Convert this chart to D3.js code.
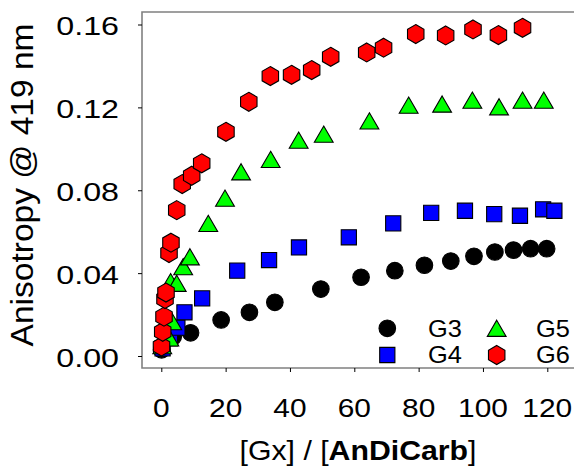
<!DOCTYPE html>
<html>
<head>
<meta charset="utf-8">
<script src="https://cdn.jsdelivr.net/npm/d3@7/dist/d3.min.js"></script>
<style>
  html, body { margin: 0; padding: 0; background: #fff; }
  svg { display: block; font-family: "Liberation Sans", Arial, sans-serif; }
</style>
</head>
<body>
<svg id="chart" width="574" height="470"></svg>
<script>
// Titration data: [Gx]/[AnDiCarb] ratio vs. fluorescence anisotropy at 419 nm
const g3Ratio = [0.1, 3.7, 9.1, 18.6, 27.4, 35.3, 49.6, 62.1, 72.6, 81.8, 90.0, 97.2, 103.7, 109.5, 114.8, 119.8];
const g3Aniso = [0.0030, 0.0093, 0.0112, 0.0174, 0.0211, 0.0259, 0.0323, 0.0380, 0.0412, 0.0438, 0.0458, 0.0481, 0.0502, 0.0511, 0.0518, 0.0518];

const g4Ratio = [0.4, 2.7, 5.0, 7.2, 12.7, 23.6, 33.5, 42.8, 58.3, 72.1, 83.9, 94.4, 103.5, 111.5, 118.7, 122.2];
const g4Aniso = [0.0037, 0.0085, 0.0137, 0.0211, 0.0278, 0.0412, 0.0463, 0.0524, 0.0573, 0.0640, 0.0691, 0.0701, 0.0685, 0.0677, 0.0708, 0.0701];

const g5Ratio = [0.3, 2.5, 2.9, 3.4, 4.8, 6.8, 8.9, 14.6, 19.8, 24.8, 34.0, 42.7, 50.5, 64.7, 76.9, 87.3, 96.7, 105.0, 112.3, 118.9];
const g5Aniso = [0.0050, 0.0087, 0.0359, 0.0166, 0.0351, 0.0431, 0.0479, 0.0640, 0.0762, 0.0889, 0.0949, 0.1042, 0.1071, 0.1135, 0.1211, 0.1216, 0.1235, 0.1203, 0.1235, 0.1235];

const g6Ratio = [0.06, 0.44, 0.84, 1.15, 1.46, 2.4, 3.0, 4.8, 6.5, 9.45, 12.56, 20.1, 27.2, 33.9, 40.5, 46.75, 52.66, 63.85, 69.1, 79.1, 88.4, 96.9, 104.8, 112.3];
const g6Aniso = [0.0046, 0.0117, 0.0190, 0.0275, 0.0306, 0.0497, 0.0547, 0.0704, 0.0830, 0.0870, 0.0930, 0.1082, 0.1227, 0.1351, 0.1357, 0.1380, 0.1444, 0.1465, 0.1488, 0.1554, 0.1547, 0.1576, 0.1549, 0.1584];

const seriesNames = ["G3", "G4", "G5", "G6"];
const xTicks = [0, 20, 40, 60, 80, 100, 120];
const yTicks = [0.00, 0.04, 0.08, 0.12, 0.16];

const series = [
  { name: "G3", xs: g3Ratio, ys: g3Aniso, shape: "circle",   fill: "#000000" },
  { name: "G4", xs: g4Ratio, ys: g4Aniso, shape: "square",   fill: "#0000ff" },
  { name: "G5", xs: g5Ratio, ys: g5Aniso, shape: "triangle", fill: "#00ff00" },
  { name: "G6", xs: g6Ratio, ys: g6Aniso, shape: "hexagon",  fill: "#ff0000" }
];

const svg = d3.select("#chart");
const frame = { left: 142, right: 575, top: 12, bottom: 368 };

const x = d3.scaleLinear().domain([0, 120]).range([161.3, 547.3]);
const y = d3.scaleLinear().domain([0, 0.16]).range([356, 24.5]);

// Marker outlines, centred on the data point
function markerPath(shape) {
  const p = d3.path();
  if (shape === "circle") {
    p.arc(0, 0, 8.3, 0, 2 * Math.PI);
  } else if (shape === "square") {
    const h = 7.6;
    p.rect(-h, -h, 2 * h, 2 * h);
  } else if (shape === "triangle") {
    const w = 9.4, h = 8.1;
    p.moveTo(0, -h); p.lineTo(w, h); p.lineTo(-w, h); p.closePath();
  } else {
    const r = 9.5;
    for (let i = 0; i < 6; i++) {
      const a = -Math.PI / 2 + i * Math.PI / 3;
      const px = r * Math.cos(a), py = r * Math.sin(a);
      if (i === 0) p.moveTo(px, py); else p.lineTo(px, py);
    }
    p.closePath();
  }
  return p.toString();
}

// Frame: top, left and bottom edges
svg.append("path")
  .attr("d", `M${frame.right},${frame.top}H${frame.left}V${frame.bottom}H${frame.right}`)
  .attr("fill", "none")
  .attr("stroke", "#808080")
  .attr("stroke-width", 1.6);

// Axes (ticks only; labels drawn separately)
const yAxis = svg.append("g")
  .attr("transform", `translate(${frame.left},0)`)
  .call(d3.axisLeft(y).tickValues(yTicks).tickSize(4).tickFormat(""));
const xAxis = svg.append("g")
  .attr("transform", `translate(0,${frame.bottom})`)
  .call(d3.axisBottom(x).tickValues(xTicks).tickSize(4).tickFormat(""));
[yAxis, xAxis].forEach(g => {
  g.select(".domain").remove();
  g.selectAll(".tick line").attr("stroke", "#000").attr("stroke-width", 1);
});

// Y tick labels
svg.append("g").selectAll("g")
  .data(yTicks)
  .join("g")
  .attr("transform", d => `translate(119,${y(d) + 10.5}) scale(1.24,1)`)
  .append("text")
  .attr("text-anchor", "end")
  .attr("font-size", 26)
  .text(d => d3.format(".2f")(d));

// X tick labels
svg.append("g").selectAll("g")
  .data(xTicks)
  .join("g")
  .attr("transform", d => `translate(${x(d)},417) scale(1.15,1)`)
  .append("text")
  .attr("text-anchor", "middle")
  .attr("font-size", 26)
  .text(d => d);

// Axis titles
const xTitle = svg.append("g")
  .attr("transform", `translate(358,460) scale(1.08,1)`)
  .append("text")
  .attr("text-anchor", "middle")
  .attr("font-size", 28);
xTitle.append("tspan").text("[Gx] / [");
xTitle.append("tspan").attr("font-weight", "bold").text("AnDiCarb");
xTitle.append("tspan").text("]");

svg.append("g")
  .attr("transform", `translate(33,185) rotate(-90) scale(1.1,1)`)
  .append("text")
  .attr("text-anchor", "middle")
  .attr("font-size", 30.5)
  .text("Anisotropy @ 419 nm");

// Data markers, G3 drawn first so G6 sits on top
series.forEach(s => {
  const pts = s.xs.map((v, i) => [v, s.ys[i]]);
  svg.append("g")
    .attr("class", "series-" + s.name)
    .selectAll("path")
    .data(pts)
    .join("path")
    .attr("d", markerPath(s.shape))
    .attr("transform", d => `translate(${x(d[0])},${y(d[1])})`)
    .attr("fill", s.fill)
    .attr("stroke", "#000")
    .attr("stroke-width", 1.1);
});

// Legend: two rows, two columns
const legendPos = [
  { cx: 387.3, tx: 428, cy: 328.3, base: 336.5 },
  { cx: 387.3, tx: 428, cy: 355,   base: 363 },
  { cx: 496.7, tx: 536, cy: 328.3, base: 336.5 },
  { cx: 496.7, tx: 536, cy: 355,   base: 363 }
];
const legend = svg.append("g");
series.forEach((s, i) => {
  const p = legendPos[i];
  legend.append("path")
    .attr("d", markerPath(s.shape))
    .attr("transform", `translate(${p.cx},${p.cy})`)
    .attr("fill", s.fill)
    .attr("stroke", "#000")
    .attr("stroke-width", 1.1);
  legend.append("g")
    .attr("transform", `translate(${p.tx},${p.base}) scale(1.08,1)`)
    .append("text")
    .attr("font-size", 23.5)
    .text(seriesNames[i]);
});
</script>
</body>
</html>
